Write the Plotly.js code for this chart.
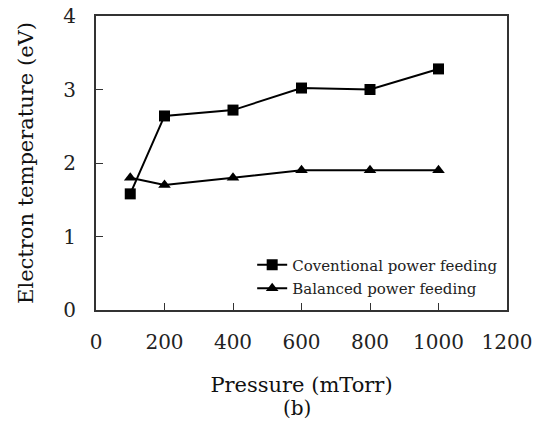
<!DOCTYPE html>
<html>
<head>
<meta charset="utf-8">
<script src="https://cdn.plot.ly/plotly-3.0.1.min.js"></script>
<style>html,body{margin:0;padding:0;background:#fff;}#chart{width:541px;height:433px;}</style>
</head>
<body>
<div id="chart"></div>
<script>
const pressure = [100, 200, 400, 600, 800, 1000];
const conventional = [1.58, 2.64, 2.72, 3.02, 3.00, 3.28];
const balanced = [1.80, 1.70, 1.80, 1.90, 1.90, 1.90];
const seriesNames = ["Coventional power feeding", "Balanced power feeding"];
const xTicks = [0, 200, 400, 600, 800, 1000, 1200];
const yTicks = [0, 1, 2, 3, 4];

const FONT = "DejaVu Serif, serif";
const traces = [
  {x: pressure, y: conventional, name: seriesNames[0], mode: "lines+markers", legendgroup: "a",
   line: {color: "#000", width: 2}, marker: {symbol: "square", size: 11, color: "#000"}},
  {x: pressure, y: balanced, name: seriesNames[1], mode: "lines+markers", legendgroup: "b",
   line: {color: "#000", width: 2}, marker: {symbol: "triangle-up", size: 11, color: "#000"}}
];
const layout = {
  width: 541, height: 433,
  margin: {l: 96, r: 34, t: 16, b: 123},
  paper_bgcolor: "#fff", plot_bgcolor: "#fff",
  font: {family: FONT, color: "#222"},
  showlegend: true,
  legend: {x: 0.38, y: 0.114, xanchor: "left", yanchor: "middle", bgcolor: "rgba(0,0,0,0)",
           font: {family: FONT, size: 15, color: "#222"}, itemwidth: 30, tracegroupgap: 1},
  xaxis: {range: [0, 1200], tickvals: xTicks, ticktext: xTicks.map(String),
          ticks: "inside", ticklen: 7, tickcolor: "#333", tickwidth: 1,
          showline: true, linecolor: "#333", linewidth: 2, mirror: true,
          showgrid: false, zeroline: false, ticklabelstandoff: 13,
          tickfont: {family: FONT, size: 20, color: "#222"},
          title: {text: "Pressure (mTorr)", font: {family: FONT, size: 21, color: "#111"}, standoff: 24}},
  yaxis: {range: [0, 4], tickvals: yTicks, ticktext: yTicks.map(String),
          ticks: "inside", ticklen: 7, tickcolor: "#333", tickwidth: 1,
          showline: true, linecolor: "#333", linewidth: 2, mirror: true,
          showgrid: false, zeroline: false, ticklabelstandoff: 14,
          tickfont: {family: FONT, size: 20, color: "#222"},
          title: {text: "Electron temperature (eV)", font: {family: FONT, size: 21, color: "#111"}, standoff: 24}},
  annotations: [{text: "(b)", xref: "paper", yref: "paper", x: 0.49, y: -0.333, yanchor: "middle",
                 showarrow: false, font: {family: FONT, size: 20, color: "#111"}}]
};
Plotly.newPlot("chart", traces, layout, {displayModeBar: false, staticPlot: true});
</script>
</body>
</html>
